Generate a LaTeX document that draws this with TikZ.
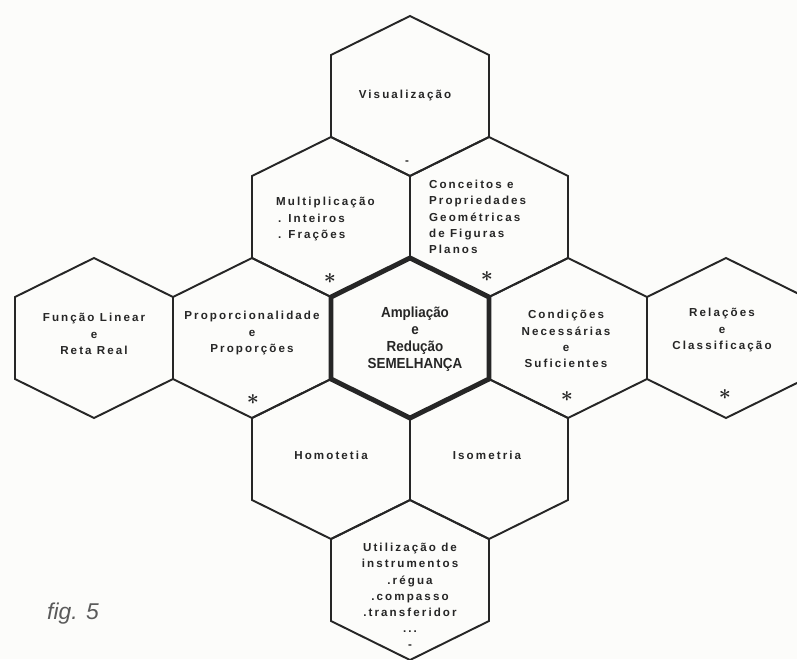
\documentclass[tikz,border=0pt]{standalone}
\usepackage{fontspec}
\setmainfont{Liberation Sans}
\newfontfamily\plotfont{Liberation Sans}[LetterSpace=18]
\newfontfamily\capfont{Liberation Sans}[FakeStretch=0.92]
\usetikzlibrary{positioning}
\definecolor{cink}{HTML}{262626}
\definecolor{cpaper}{HTML}{FCFCFA}
\definecolor{cgrey}{HTML}{5A5A5A}
\tikzset{
  every picture/.style={x=0.02cm, y=-0.02cm},
  cell/.style={draw=cink, line width=1.1pt, line join=miter},
  core/.style={cell, line width=2.8pt},
  hexcell/.pic={\draw[cell] (0,-80) -- (79,-41) -- (79,41) -- (0,80) -- (-79,41) -- (-79,-41) -- cycle;},
  hexcore/.pic={\draw[core] (0,-80) -- (79,-41) -- (79,41) -- (0,80) -- (-79,41) -- (-79,-41) -- cycle;},
  txt/.style={font=\plotfont\bfseries\fontsize{6.6}{9.2}\selectfont, text=cink, align=center, inner sep=1pt},
  bigtxt/.style={font=\capfont\bfseries\fontsize{8.3}{9.6}\selectfont, text=cink, align=center, inner sep=1pt},
  starmark/.style={font=\boldmath\fontsize{13}{13}\selectfont, text=cink, inner sep=0pt},
  caption/.style={font=\itshape\fontsize{13}{13}\selectfont, text=cgrey},
}

\begin{document}
\begin{tikzpicture}
  \fill[cpaper] (0,0) rectangle (797,659);
  \clip (0,0) rectangle (797,659);
  % honeycomb
  \pic at (410,96) {hexcell};
  \pic at (331,217) {hexcell};
  \pic at (489,217) {hexcell};
  \pic at (94,338) {hexcell};
  \pic at (252,338) {hexcell};
  \pic at (568,338) {hexcell};
  \pic at (726,338) {hexcell};
  \pic at (331,459) {hexcell};
  \pic at (489,459) {hexcell};
  \pic at (410,580) {hexcell};
  \pic at (410,338) {hexcore};
  % labels
  \node[txt] (vis) at (405,95) {Visualização};
  \node[txt] (visdash) at (407,163) {-};
  \node[txt, align=left, anchor=west] (mult) at (274,219) {Multiplicação\\\,. Inteiros\\\,. Frações};
  \node[txt, align=left, anchor=west] (conc) at (427,217) {Conceitos e\\Propriedades\\Geométricas\\de Figuras\\Planos};
  \node[txt] (func) at (94,334) {Função Linear\\e\\Reta Real};
  \node[txt] (prop) at (252,333) {Proporcionalidade\\e\\Proporções};
  \node[bigtxt] (semel) at (415,339) {Ampliação\\e\\Redução\\SEMELHANÇA};
  \node[txt] (cond) at (566,339) {Condições\\Necessárias\\e\\Suficientes};
  \node[txt] (rel) at (722,330) {Relações\\e\\Classificação};
  \node[txt] (homo) at (331,455) {Homotetia};
  \node[txt] (iso) at (487,455) {Isometria};
  \node[txt] (util) at (410,596) {Utilização de\\instrumentos\\.régua\\.compasso\\.transferidor\\...\\-};
  % stars
  \node[starmark] (s1) at (330,279) {$\ast$};
  \node[starmark] (s2) at (487,277) {$\ast$};
  \node[starmark] (s3) at (253,400) {$\ast$};
  \node[starmark] (s4) at (567,397) {$\ast$};
  \node[starmark] (s5) at (725,395) {$\ast$};
  \node[caption] (fig) at (73,614) {fig. 5};
\end{tikzpicture}
\end{document}
